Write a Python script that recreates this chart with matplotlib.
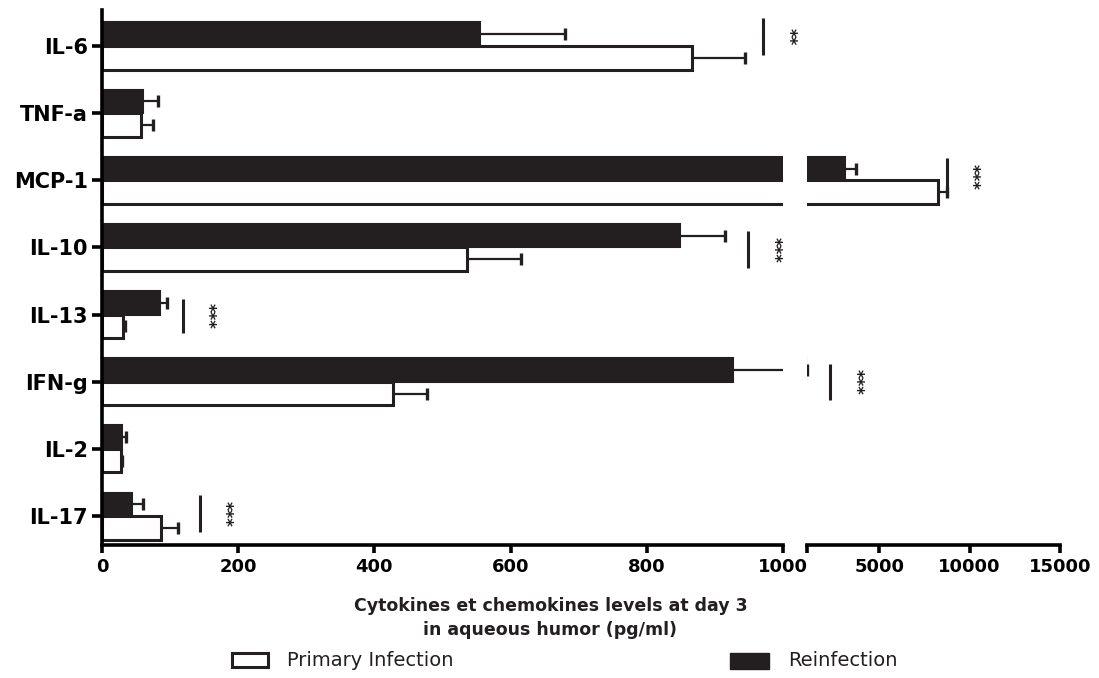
import numpy as np
import matplotlib.pyplot as plt
from matplotlib.patches import Rectangle

# valeurs (pg/ml)
cytokines = ["IL-6", "TNF-a", "MCP-1", "IL-10", "IL-13", "IFN-g", "IL-2", "IL-17"]
primary_mean = [866, 57, 8260, 536, 31, 427, 28, 87]
primary_top = [944, 75, 8757, 615, 34, 477, 29, 112]   # bout de la barre d'erreur
reinf_mean = [555, 60, 3122, 849, 85, 927, 29, 44]
reinf_top = [680, 82, 3729, 915, 95, 1020, 35, 60]

# tests de significativite
sig_cytokines = ["IL-6", "MCP-1", "IL-10", "IL-13", "IFN-g", "IL-17"]
sig_x = [971, 8757, 949, 119, 2290, 144]
sig_labels = ["**", "***", "***", "***", "***", "***"]
sig_span = [(-0.42, 0.13), (-0.33, 0.24), (-0.24, 0.31), (-0.24, 0.28), (-0.27, 0.27), (-0.31, 0.24)]

left_ticks = [0, 200, 400, 600, 800, 1000]
right_ticks = [1000, 5000, 10000, 15000]
right_ticklabels = ["", "5000", "10000", "15000"]

BLACK = "#231f20"
W, H = 1099, 678
BREAK = 1000

plt.rcParams['font.family'] = ['DejaVu Sans']
plt.rcParams['font.weight'] = 'bold'

fig = plt.figure(figsize=(W / 100, H / 100), dpi=100)
bottom = (H - 545) / H
height = 535 / H
ax1 = fig.add_axes([102 / W, bottom, (783 - 102) / W, height])
ax2 = fig.add_axes([807 / W, bottom, (1060 - 807) / W, height])

y = np.arange(len(cytokines))
h = 0.35


def draw_series(ax, means, tops, ypos, face, lw, only_big=False):
    means = np.array(means, dtype=float)
    tops = np.array(tops, dtype=float)
    m = tops > BREAK if only_big else np.ones(len(means), dtype=bool)
    if not m.any():
        return
    ax.barh(ypos[m], means[m], height=h, color=face, edgecolor=BLACK, linewidth=lw)
    ax.hlines(ypos[m], means[m], tops[m], color=BLACK, lw=1.6)
    ax.plot(tops[m], ypos[m], ls="none", marker="|", ms=9, mew=2.4, color=BLACK)


def setup(ax):
    ax.set_ylim(7.43, -0.536)
    for s in ["top", "right"]:
        ax.spines[s].set_visible(False)
    ax.spines["bottom"].set_linewidth(2.6)
    ax.tick_params(axis="x", length=6, width=2.6, labelsize=13, pad=3)


for ax, big in [(ax1, False), (ax2, True)]:
    draw_series(ax, reinf_mean, reinf_top, y - h / 2, BLACK, 1.5, big)
    draw_series(ax, primary_mean, primary_top, y + h / 2, "white", 2.2, big)
    setup(ax)

ax1.set_xlim(0, BREAK)
ax1.set_xticks(left_ticks)
ax1.spines["left"].set_linewidth(2.6)
ax1.set_yticks(y)
ax1.set_yticklabels(cytokines)
ax1.tick_params(axis="y", length=7, width=2.6, labelsize=15, pad=3)

ax2.set_xlim(BREAK, 15000)
ax2.set_xticks(right_ticks)
ax2.set_xticklabels(right_ticklabels)
ax2.spines["left"].set_visible(False)
ax2.set_yticks([])

# barres de significativite
for cyt, x, lab, (lo, hi) in zip(sig_cytokines, sig_x, sig_labels, sig_span):
    c = cytokines.index(cyt)
    ax = ax2 if x > BREAK else ax1
    ax.plot([x, x], [c + lo, c + hi], color=BLACK, lw=2.2, solid_capstyle="butt")
    ax.annotate(lab, xy=(x, c + (lo + hi) / 2), xytext=(18, 0), textcoords="offset points",
                rotation=270, ha="center", va="center", fontsize=12, fontweight="bold",
                color=BLACK)

# titre de l'axe x
fig.text(551 / W, 1 - 606 / H, "Cytokines et chemokines levels at day 3",
         ha="center", va="center", fontsize=12.5, fontweight="bold", color=BLACK)
fig.text(550 / W, 1 - 630 / H, "in aqueous humor (pg/ml)",
         ha="center", va="center", fontsize=12.5, fontweight="bold", color=BLACK)

# legende
fig.add_artist(Rectangle((232 / W, 1 - 667 / H), 36 / W, 14 / H, transform=fig.transFigure,
                         facecolor="white", edgecolor=BLACK, linewidth=2.2))
fig.text(287 / W, 1 - 661 / H, "Primary Infection", ha="left", va="center",
         fontsize=14, fontweight="normal", color=BLACK)
fig.add_artist(Rectangle((730 / W, 1 - 669 / H), 39 / W, 16 / H, transform=fig.transFigure,
                         facecolor=BLACK, edgecolor=BLACK, linewidth=1))
fig.text(788 / W, 1 - 661 / H, "Reinfection", ha="left", va="center",
         fontsize=14, fontweight="normal", color=BLACK)

fig.savefig("out.png", dpi=100)
